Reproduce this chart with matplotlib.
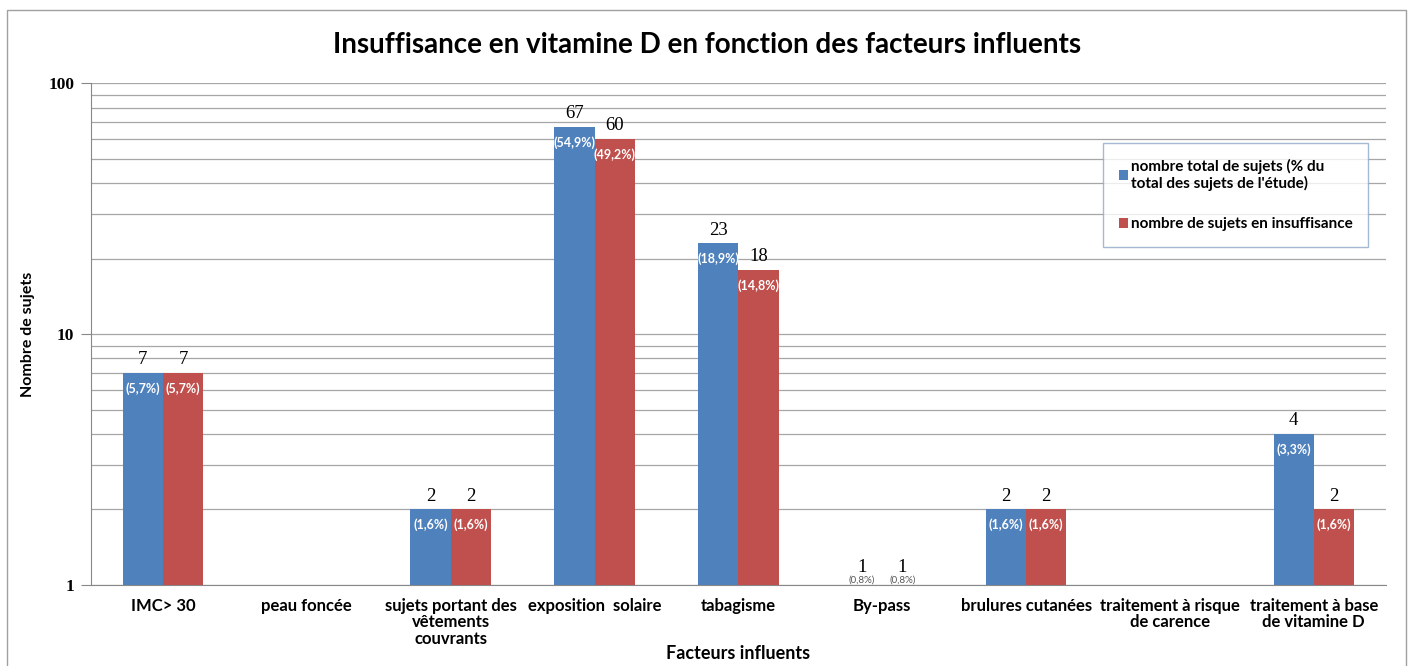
#!/usr/bin/env python3
# -*- coding: UTF-8 -*-
import matplotlib

matplotlib.use('Agg')
import matplotlib.pyplot as plt
import numpy as np

categories = ['IMC> 30', 'peau foncée', 'sujets portant des\nvêtements\ncouvrants',
              'exposition  solaire', 'tabagisme', 'By-pass', 'brulures cutanées',
              'traitement à risque\nde carence', 'traitement à base\nde vitamine D']
total = [7, np.nan, 2, 67, 23, 1, 2, np.nan, 4]
insuff = [7, np.nan, 2, 60, 18, 1, 2, np.nan, 2]
pct_total = ['(5,7%)', '', '(1,6%)', '(54,9%)', '(18,9%)', '(0,8%)', '(1,6%)', '', '(3,3%)']
pct_insuff = ['(5,7%)', '', '(1,6%)', '(49,2%)', '(14,8%)', '(0,8%)', '(1,6%)', '', '(1,6%)']
labels_total = 'nombre total de sujets (% du\ntotal des sujets de l\'étude)'
labels_insuff = 'nombre de sujets en insuffisance'

blue = '#4f81bd'
red = '#c0504d'
sans = ['Lato', 'DejaVu Sans']
serif = ['Liberation Serif', 'DejaVu Serif']

fig = plt.figure(figsize=(14.14, 6.66), dpi=100)
ax = fig.add_axes([0.0644, 0.1216, 0.9156, 0.7534])
# outer frame of the chart
fig.patches.append(plt.Rectangle((0.005, -0.01), 0.989, 0.995, transform=fig.transFigure,
                                 fill=False, edgecolor='#a0a0a0', lw=1))

x = np.arange(len(categories))
w = 0.28
ax.bar(x - w / 2, total, width=w, color=blue, bottom=0, label=labels_total, zorder=3)
ax.bar(x + w / 2, insuff, width=w, color=red, bottom=0, label=labels_insuff, zorder=3)
ax.set_yscale('log')
ax.set_ylim(1, 100)
ax.set_xlim(-0.5, len(categories) - 0.5)

for xs, vals, pcts in [(x - w / 2, total, pct_total), (x + w / 2, insuff, pct_insuff)]:
    for xi, v, p in zip(xs, vals, pcts):
        if np.isnan(v):
            continue
        if v <= 1:
            ax.text(xi, 1.085, str(v), ha='center', va='bottom', fontsize=13.5,
                    family=serif, zorder=4)
            ax.text(xi, 1.004, p, ha='center', va='bottom', fontsize=7,
                    color='#555555', family=sans, zorder=4)
        else:
            ax.text(xi, v * 1.045, str(v), ha='center', va='bottom', fontsize=13.5,
                    family=serif, zorder=4)
            ax.text(xi, v * 0.92, p, ha='center', va='top', fontsize=9,
                    color='white', fontweight='bold', family=sans, zorder=4)

ax.yaxis.grid(True, which='both', color='#a6a6a6', lw=0.9, zorder=0)
ax.set_yticks([1, 10, 100])
ax.set_yticklabels(['1', '10', '100'], family=serif, fontsize=12.5, fontweight='bold')
ax.yaxis.set_minor_formatter(matplotlib.ticker.NullFormatter())
ax.tick_params(axis='y', which='major', length=7, color='#888888', pad=5)
ax.tick_params(axis='y', which='minor', length=0)
ax.tick_params(axis='x', length=0, pad=9)
ax.set_xticks(x)
ax.set_xticklabels(categories, family=sans, fontweight='bold', fontsize=12,
                   linespacing=1.05)
for s in ['top', 'right']:
    ax.spines[s].set_visible(False)
ax.spines['left'].set_color('#888888')
ax.spines['bottom'].set_color('#888888')

ax.set_ylabel('Nombre de sujets', family=sans, fontweight='bold', fontsize=11.5)
ax.yaxis.set_label_coords(-0.043, 0.5)
ax.set_xlabel('Facteurs influents', family=sans, fontweight='bold', fontsize=13)
ax.xaxis.set_label_coords(0.5, -0.12)
fig.suptitle('Insuffisance en vitamine D en fonction des facteurs influents',
             family=sans, fontweight='bold', fontsize=20, x=0.5, y=0.933, va='center')

leg = ax.legend(loc='upper left', bbox_to_anchor=(0.782, 0.88), prop={'family': sans,
                'weight': 'bold', 'size': 11}, frameon=True, fancybox=False,
                handlelength=0.6, handleheight=0.6, handletextpad=0.2,
                labelspacing=1.7, borderpad=1.0, borderaxespad=0)
leg.get_frame().set_edgecolor('#8fa8c8')
leg.get_frame().set_linewidth(1)

fig.savefig('out.png', dpi=100)
